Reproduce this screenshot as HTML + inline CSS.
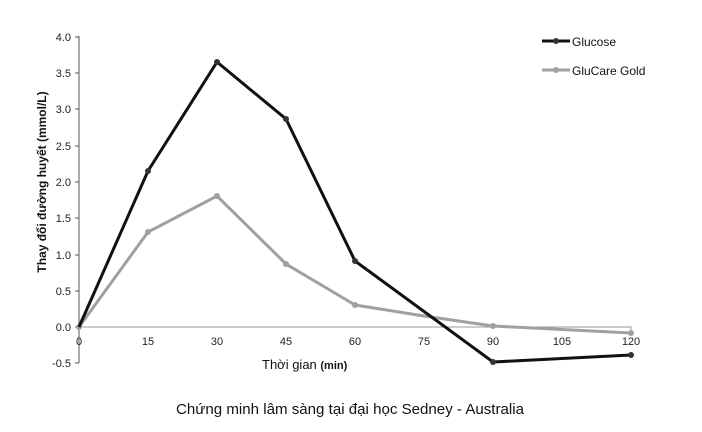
<!DOCTYPE html>
<html><head><style>body{margin:0;background:#fff;width:702px;height:427px;overflow:hidden}</style></head><body>
<svg width="702" height="427" xmlns="http://www.w3.org/2000/svg" font-family="Liberation Sans, sans-serif">
<rect width="702" height="427" fill="#fff"/>
<g stroke="#555" stroke-width="1">
<line x1="79" y1="36" x2="79" y2="363"/>
<line x1="79" y1="327" x2="631" y2="327" stroke="#999"/>
<line x1="631" y1="327" x2="631" y2="332" stroke="#999"/>
<line x1="75" y1="37" x2="79" y2="37"/><line x1="75" y1="73" x2="79" y2="73"/><line x1="75" y1="109" x2="79" y2="109"/><line x1="75" y1="146" x2="79" y2="146"/><line x1="75" y1="182" x2="79" y2="182"/><line x1="75" y1="218" x2="79" y2="218"/><line x1="75" y1="255" x2="79" y2="255"/><line x1="75" y1="291" x2="79" y2="291"/><line x1="75" y1="327" x2="79" y2="327"/><line x1="75" y1="363" x2="79" y2="363"/>
</g>
<g font-size="11" fill="#222" text-anchor="end">
<text x="71" y="41">4.0</text><text x="71" y="77">3.5</text><text x="71" y="113">3.0</text><text x="71" y="150">2.5</text><text x="71" y="186">2.0</text><text x="71" y="222">1.5</text><text x="71" y="259">1.0</text><text x="71" y="295">0.5</text><text x="71" y="331">0.0</text><text x="71" y="367">-0.5</text>
</g>
<g font-size="11" fill="#222" text-anchor="middle">
<text x="79" y="345">0</text><text x="148" y="345">15</text><text x="217" y="345">30</text><text x="286" y="345">45</text><text x="355" y="345">60</text><text x="424" y="345">75</text><text x="493" y="345">90</text><text x="562" y="345">105</text><text x="631" y="345">120</text>
</g>
<text x="262" y="369" font-size="13" fill="#111">Thời gian <tspan font-weight="bold" font-size="11">(min)</tspan></text>
<text transform="translate(46,182) rotate(-90)" font-size="12" text-anchor="middle" fill="#111" font-weight="bold">Thay đổi đường huyết (mmol/L)</text>
<polyline fill="none" stroke="#a0a0a0" stroke-width="3" points="79,327 148,232 217,196 286,264 355,305 424,316 493,326 631,333"/>
<g fill="#a0a0a0"><circle cx="148" cy="232" r="3"/><circle cx="217" cy="196" r="3"/><circle cx="286" cy="264" r="3"/><circle cx="355" cy="305" r="3"/><circle cx="493" cy="326" r="3"/><circle cx="631" cy="333" r="3"/><circle cx="79" cy="327" r="3"/></g>
<polyline fill="none" stroke="#111" stroke-width="3" points="79,327 148,171 217,62 286,119 355,261 493,362 631,355"/>
<g fill="#333"><circle cx="148" cy="171" r="3"/><circle cx="217" cy="62" r="3"/><circle cx="286" cy="119" r="3"/><circle cx="355" cy="261" r="3"/><circle cx="493" cy="362" r="3"/><circle cx="631" cy="355" r="3"/></g>
<line x1="542" y1="41" x2="570" y2="41" stroke="#111" stroke-width="3"/><circle cx="556" cy="41" r="3" fill="#333"/>
<text x="572" y="46" font-size="12" fill="#111">Glucose</text>
<line x1="542" y1="70" x2="570" y2="70" stroke="#a0a0a0" stroke-width="3"/><circle cx="556" cy="70" r="3" fill="#a0a0a0"/>
<text x="572" y="75" font-size="12" fill="#111">GluCare Gold</text>
<text x="350" y="414" font-size="15" text-anchor="middle" fill="#111" textLength="348" lengthAdjust="spacingAndGlyphs">Chứng minh lâm sàng tại đại học Sedney - Australia</text>
</svg>
</body></html>
